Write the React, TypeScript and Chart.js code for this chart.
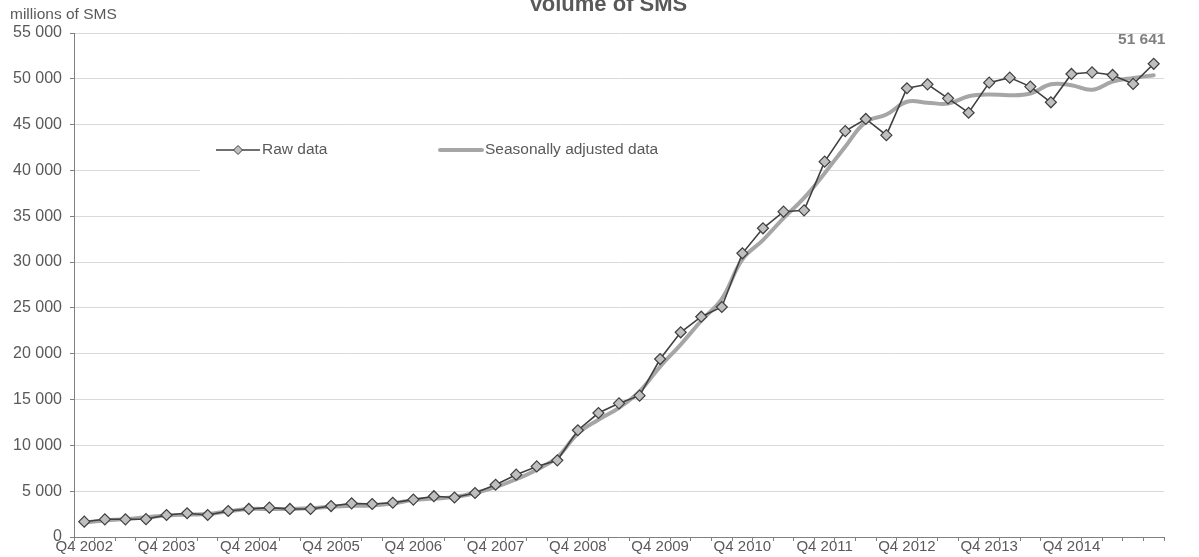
import React, { useEffect, useRef } from "react";
import { Chart, registerables } from "chart.js";

Chart.register(...registerables);

const categories: string[] = [
  "Q4 2002", "Q1 2003", "Q2 2003", "Q3 2003",
  "Q4 2003", "Q1 2004", "Q2 2004", "Q3 2004",
  "Q4 2004", "Q1 2005", "Q2 2005", "Q3 2005",
  "Q4 2005", "Q1 2006", "Q2 2006", "Q3 2006",
  "Q4 2006", "Q1 2007", "Q2 2007", "Q3 2007",
  "Q4 2007", "Q1 2008", "Q2 2008", "Q3 2008",
  "Q4 2008", "Q1 2009", "Q2 2009", "Q3 2009",
  "Q4 2009", "Q1 2010", "Q2 2010", "Q3 2010",
  "Q4 2010", "Q1 2011", "Q2 2011", "Q3 2011",
  "Q4 2011", "Q1 2012", "Q2 2012", "Q3 2012",
  "Q4 2012", "Q1 2013", "Q2 2013", "Q3 2013",
  "Q4 2013", "Q1 2014", "Q2 2014", "Q3 2014",
  "Q4 2014", "Q1 2015", "Q2 2015", "Q3 2015",
  "Q4 2015",
];

const shownTickLabels: string[] = [
  "Q4 2002", "Q4 2003", "Q4 2004", "Q4 2005", "Q4 2006", "Q4 2007", "Q4 2008",
  "Q4 2009", "Q4 2010", "Q4 2011", "Q4 2012", "Q4 2013", "Q4 2014",
];

const rawData: number[] = [
  1670, 1930, 1930, 1950,
  2400, 2590, 2400, 2840,
  3060, 3200, 3060, 3060,
  3380, 3670, 3600, 3740,
  4080, 4450, 4310, 4800,
  5700, 6800, 7700, 8370,
  11650, 13530, 14590, 15420,
  19420, 22340, 24040, 25100,
  30960, 33690, 35500, 35650,
  40960, 44300, 45620, 43850,
  48970, 49400, 47870, 46300,
  49580, 50130, 49150, 47440,
  50530, 50710, 50420, 49440,
  51641,
];

const seasonallyAdjusted: number[] = [
  1600, 1800, 1950, 2150,
  2350, 2450, 2500, 2800,
  3050, 3050, 3050, 3150,
  3300, 3400, 3450, 3650,
  4050, 4200, 4350, 4800,
  5450, 6300, 7350, 8700,
  11300, 12800, 14100, 15900,
  18600, 21000, 23600, 26000,
  30300, 32400, 34800, 37000,
  39700, 42600, 45300, 46100,
  47500, 47400, 47300, 48100,
  48300, 48200, 48400, 49400,
  49300, 48800, 49700, 50100,
  50400,
];

const seriesNames: string[] = ["Raw data", "Seasonally adjusted data"];
const chartTitle = "Volume of SMS";
const unitLabel = "millions of SMS";

const FONT = "'Liberation Sans', Arial, sans-serif";
const TEXT = "#595959";
const RAW_LINE = "#404040";
const RAW_FILL = "#bfbfbf";
const SA_LINE = "#a6a6a6";

const fmt = (v: number) => String(v).replace(/\B(?=(\d{3})+(?!\d))/g, " ");

const overlayPlugin = {
  id: "overlay",
  afterDraw(chart: any) {
    const ctx = chart.ctx as CanvasRenderingContext2D;
    ctx.save();
    // title
    ctx.fillStyle = TEXT;
    ctx.font = `bold 22px ${FONT}`;
    ctx.textAlign = "center";
    ctx.textBaseline = "alphabetic";
    ctx.fillText(chartTitle, 608, 11);
    // unit
    ctx.font = `15.5px ${FONT}`;
    ctx.textAlign = "left";
    ctx.fillText(unitLabel, 10, 19);

    // legend box
    ctx.fillStyle = "#ffffff";
    ctx.fillRect(200, 128, 610, 43);
    const ly = 150;
    // raw
    ctx.strokeStyle = RAW_LINE;
    ctx.lineWidth = 1.5;
    ctx.beginPath();
    ctx.moveTo(216, ly);
    ctx.lineTo(260, ly);
    ctx.stroke();
    ctx.beginPath();
    ctx.moveTo(238 - 4.5, ly);
    ctx.lineTo(238, ly - 4.5);
    ctx.lineTo(238 + 4.5, ly);
    ctx.lineTo(238, ly + 4.5);
    ctx.closePath();
    ctx.fillStyle = RAW_FILL;
    ctx.fill();
    ctx.lineWidth = 1;
    ctx.stroke();
    // SA
    ctx.strokeStyle = SA_LINE;
    ctx.lineWidth = 4;
    ctx.lineCap = "round";
    ctx.beginPath();
    ctx.moveTo(440, ly);
    ctx.lineTo(482, ly);
    ctx.stroke();
    ctx.fillStyle = TEXT;
    ctx.font = `15.5px ${FONT}`;
    ctx.textAlign = "left";
    ctx.textBaseline = "middle";
    ctx.fillText(seriesNames[0], 262, ly);
    ctx.fillText(seriesNames[1], 485, ly);

    // last value label
    const meta = chart.getDatasetMeta(0);
    const last = meta.data[meta.data.length - 1];
    if (last) {
      ctx.fillStyle = "#7f7f7f";
      ctx.font = `bold 15.5px ${FONT}`;
      ctx.textAlign = "center";
      ctx.textBaseline = "alphabetic";
      ctx.fillText(fmt(rawData[rawData.length - 1]), last.x - 12, last.y - 20);
    }
    ctx.restore();
  },
};

export default function App() {
  const ref = useRef<HTMLCanvasElement | null>(null);
  useEffect(() => {
    if (!ref.current) return;
    const chart = new Chart(ref.current, {
      type: "line",
      data: {
        labels: categories,
        datasets: [
          {
            label: seriesNames[0],
            data: rawData,
            borderColor: RAW_LINE,
            borderWidth: 1.6,
            backgroundColor: RAW_FILL,
            pointStyle: "rectRot",
            pointRadius: 5.5,
            pointBackgroundColor: RAW_FILL,
            pointBorderColor: RAW_LINE,
            pointBorderWidth: 1.2,
            tension: 0,
            clip: false,
          } as any,
          {
            label: seriesNames[1],
            data: seasonallyAdjusted,
            borderColor: SA_LINE,
            borderWidth: 4,
            pointRadius: 0,
            tension: 0.4,
            borderCapStyle: "round",
            clip: false,
          } as any,
        ],
      },
      options: {
        responsive: false,
        animation: false,
        layout: { padding: { left: 0, top: 33, right: 35, bottom: 0 } },
        plugins: {
          legend: { display: false },
          title: { display: false },
          tooltip: { enabled: false },
        },
        scales: {
          x: {
            type: "category",
            offset: true,
            grid: {
              offset: true,
              drawOnChartArea: false,
              drawTicks: true,
              tickLength: 4,
              tickColor: "#808080",
            },
            border: { color: "#808080", width: 1 },
            ticks: {
              autoSkip: false,
              maxRotation: 0,
              minRotation: 0,
              padding: -3,
              color: TEXT,
              font: { family: FONT, size: 15 },
              callback: (_v: any, i: number) =>
                shownTickLabels.includes(categories[i]) ? categories[i] : "",
            },
            afterFit: (s: any) => {
              s.height = 20;
            },
          },
          y: {
            min: 0,
            max: 55000,
            grid: {
              color: "#d9d9d9",
              tickColor: "#808080",
              tickLength: 4,
            },
            border: { color: "#808080", width: 1 },
            ticks: {
              stepSize: 5000,
              padding: 8,
              color: TEXT,
              font: { family: FONT, size: 16 },
              callback: (v: any) => fmt(Number(v)),
            },
            afterFit: (s: any) => {
              s.width = 74;
            },
          },
        },
      },
      plugins: [overlayPlugin],
    });
    return () => chart.destroy();
  }, []);
  return (
    <div style={{ position: "absolute", left: 0, top: 0, width: 1199, height: 557, background: "#fff" }}>
      <canvas ref={ref} width={1199} height={557} style={{ display: "block" }} />
    </div>
  );
}
